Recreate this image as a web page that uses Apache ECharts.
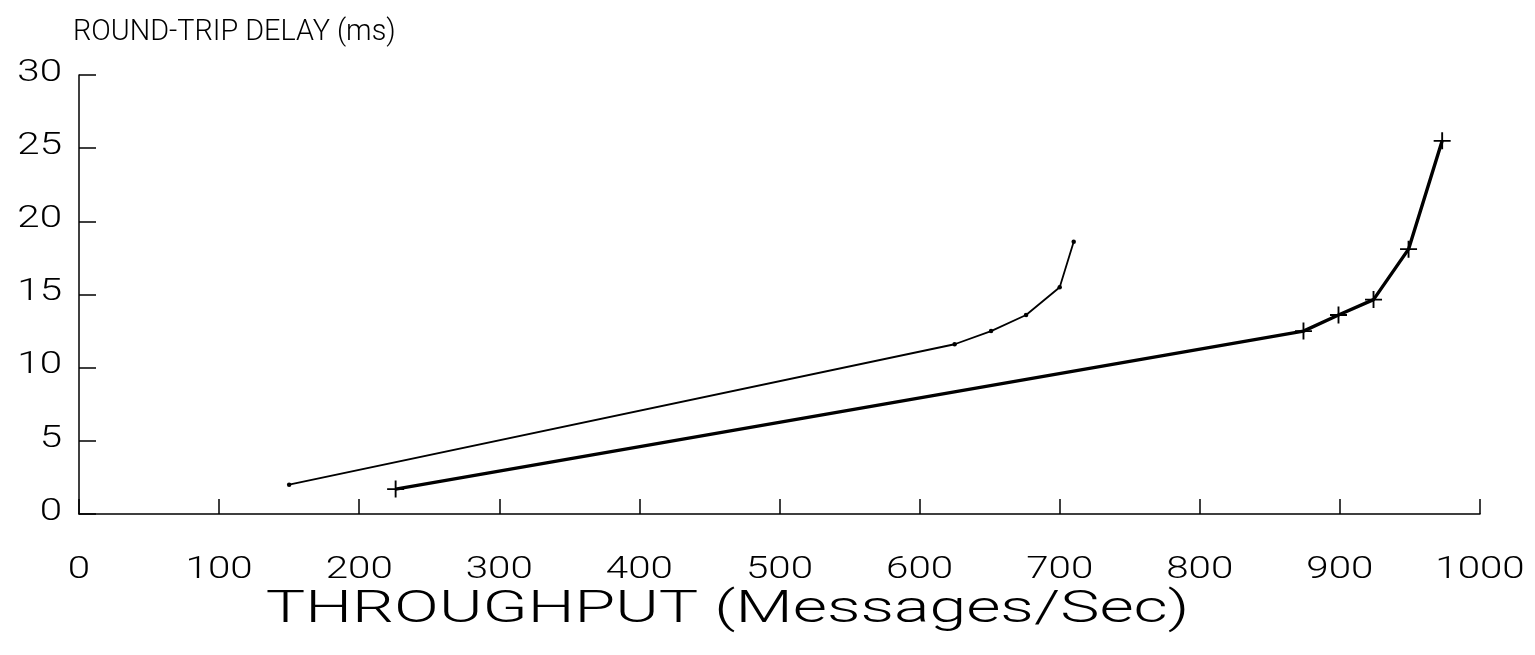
<!DOCTYPE html>
<html>
<head>
<meta charset="utf-8">
<script src="https://cdn.jsdelivr.net/npm/echarts@6/dist/echarts.min.js"></script>
<style>
  html, body { margin: 0; padding: 0; background: #fff; }
  #chart { width: 1535px; height: 655px; }
</style>
</head>
<body>
<div id="chart"></div>
<script>
// Throughput (messages/sec) vs round-trip delay (ms) for two configurations
const xTicks = [0, 100, 200, 300, 400, 500, 600, 700, 800, 900, 1000];
const yTicks = [0, 5, 10, 15, 20, 25, 30];

const thinThroughput = [150, 625, 651, 676, 700, 710];
const thinDelay      = [2.0, 11.6, 12.5, 13.6, 15.5, 18.6];

const boldThroughput = [226, 874, 899, 924, 949, 973];
const boldDelay      = [1.7, 12.5, 13.6, 14.65, 18.1, 25.5];

const titleText = 'ROUND-TRIP DELAY (ms)';
const xName = 'THROUGHPUT (Messages/Sec)';

const pairs = (xs, ys) => xs.map((x, i) => [x, ys[i]]);

const plusPath = 'path://M4.45,0H5.55V4.45H10V5.55H5.55V10H4.45V5.55H0V4.45H4.45Z';
const fam = 'Roboto, "Liberation Sans", Arial, sans-serif';
const ink = '#000';

const chart = echarts.init(document.getElementById('chart'), null, { renderer: 'canvas' });
chart.setOption({
  backgroundColor: '#fff',
  animation: false,
  grid: { left: 79, right: 55, top: 75, bottom: 141 },
  xAxis: {
    type: 'value', min: 0, max: 1000, interval: 100,
    axisLine: { show: true, onZero: false, lineStyle: { color: ink, width: 1.5 } },
    axisTick: { show: true, inside: true, length: 15, lineStyle: { color: ink, width: 1.5 } },
    axisLabel: { show: false },
    splitLine: { show: false }
  },
  yAxis: {
    type: 'value', min: 0, max: 30, interval: 5,
    axisLine: { show: true, onZero: false, lineStyle: { color: ink, width: 1.5 } },
    axisTick: { show: true, inside: true, length: 17, lineStyle: { color: ink, width: 1.5 } },
    axisLabel: { show: false },
    splitLine: { show: false }
  },
  series: [
    {
      type: 'line',
      data: pairs(thinThroughput, thinDelay),
      lineStyle: { color: ink, width: 1.8 },
      symbol: 'circle', symbolSize: 4.5,
      itemStyle: { color: ink },
      z: 3
    },
    {
      type: 'line',
      data: pairs(boldThroughput, boldDelay),
      lineStyle: { color: ink, width: 3.4 },
      symbol: plusPath, symbolSize: 17,
      itemStyle: { color: ink },
      z: 4
    }
  ]
});

// Wide plotter-style lettering: text placed from the axis scales, stretched horizontally
function wideText(text, x, y, size, stretch, align, vAlign) {
  return {
    type: 'text', x: x, y: y, scaleX: stretch, scaleY: 1, silent: true,
    style: {
      text: text, fill: ink,
      font: '300 ' + size + 'px ' + fam,
      textAlign: align, textVerticalAlign: vAlign
    }
  };
}

const labels = [];
xTicks.forEach(v => {
  const p = chart.convertToPixel({ gridIndex: 0 }, [v, 0]);
  labels.push(wideText(String(v), p[0], p[1] + 56, 31, 1.3, 'center', 'middle'));
});
yTicks.forEach(v => {
  const p = chart.convertToPixel({ gridIndex: 0 }, [0, v]);
  labels.push(wideText(String(v), p[0] - 17, p[1] - 2, 31, 1.3, 'right', 'middle'));
});
const mid = chart.convertToPixel({ gridIndex: 0 }, [500, 0]);
labels.push(wideText(xName, mid[0] - 52, mid[1] + 97, 45, 1.47, 'center', 'middle'));
labels.push(wideText(titleText, 73, 32, 30, 0.96, 'left', 'middle'));

chart.setOption({ graphic: { elements: labels } });
</script>
</body>
</html>
